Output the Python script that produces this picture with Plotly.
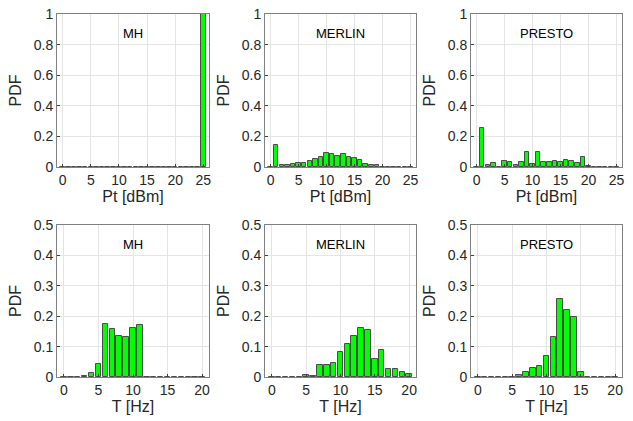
import plotly.graph_objects as go

pt_bins = list(range(0, 26))
t_bins = list(range(0, 21))

mh_pt = [0.0] * 25 + [1.0]
merlin_pt = [0.0, 0.147, 0.014, 0.014, 0.021, 0.023, 0.026, 0.041, 0.054, 0.065,
             0.094, 0.088, 0.074, 0.088, 0.067, 0.060, 0.044, 0.021, 0.016, 0.010,
             0.0, 0.0, 0.0, 0.0, 0.0, 0.0]
presto_pt = [0.0, 0.255, 0.013, 0.026, 0.002, 0.040, 0.030, 0.011, 0.033, 0.099,
             0.020, 0.099, 0.033, 0.033, 0.037, 0.034, 0.046, 0.040, 0.029, 0.064,
             0.008, 0.0, 0.0, 0.0, 0.0, 0.0]

mh_t = [0.0, 0.0, 0.001, 0.004, 0.014, 0.043, 0.175, 0.159, 0.136, 0.132, 0.162,
        0.170, 0.0, 0.0, 0.0, 0.0, 0.0, 0.0, 0.0, 0.0, 0.0]
merlin_t = [0.0, 0.0, 0.0, 0.0, 0.0, 0.005, 0.002, 0.040, 0.041, 0.045, 0.082,
            0.107, 0.136, 0.162, 0.153, 0.060, 0.090, 0.026, 0.026, 0.016, 0.009]
presto_t = [0.0, 0.0, 0.0, 0.0, 0.001, 0.001, 0.005, 0.016, 0.031, 0.037, 0.069,
            0.132, 0.257, 0.222, 0.197, 0.015, 0.0, 0.0, 0.0, 0.0, 0.0]

titles = ["MH", "MERLIN", "PRESTO"]
pt_series = [mh_pt, merlin_pt, presto_pt]
t_series = [mh_t, merlin_t, presto_t]

W, H = 633, 421
xcols = [(57, 209), (265, 416), (471, 622)]
rows = [(14, 167), (225, 377)]

FONT = "Liberation Sans, Arial, sans-serif"
TXT = "#262626"

fig = go.Figure()
panels = [(r, c) for r in range(2) for c in range(3)]

for i, (r, c) in enumerate(panels):
    idx = i + 1
    xa = "x" if idx == 1 else f"x{idx}"
    ya = "y" if idx == 1 else f"y{idx}"
    if r == 0:
        xs, ys = pt_bins, pt_series[c]
    else:
        xs, ys = t_bins, t_series[c]
    fig.add_trace(go.Bar(
        x=xs, y=ys, xaxis=xa, yaxis=ya, width=0.8,
        marker=dict(color="#00ff00", line=dict(color="rgb(75,75,75)", width=1)),
        showlegend=False, hoverinfo="x+y",
    ))
    x0, x1 = xcols[c]
    y0, y1 = rows[r]
    common = dict(
        showline=True, mirror=True, linecolor="#7f7f7f", linewidth=1,
        showgrid=True, gridcolor="#e4e4e4", gridwidth=1,
        ticks="inside", ticklen=3, tickcolor="#404040",
        tickfont=dict(family=FONT, size=14, color=TXT),
        zeroline=False, automargin=False, ticklabeloverflow="allow",
    )
    if r == 0:
        xrng, xt, xtitle = [-1, 26], [0, 5, 10, 15, 20, 25], "Pt [dBm]"
        yrng, yt = [0, 1], [0, 0.2, 0.4, 0.6, 0.8, 1]
        ylab = ["0", "0.2", "0.4", "0.6", "0.8", "1"]
    else:
        xrng, xt, xtitle = [-1, 21], [0, 5, 10, 15, 20], "T [Hz]"
        yrng, yt = [0, 0.5], [0, 0.1, 0.2, 0.3, 0.4, 0.5]
        ylab = ["0", "0.1", "0.2", "0.3", "0.4", "0.5"]
    xkey = "xaxis" if idx == 1 else f"xaxis{idx}"
    ykey = "yaxis" if idx == 1 else f"yaxis{idx}"
    fig.update_layout(**{
        xkey: dict(common, domain=[x0 / W, x1 / W], range=xrng,
                   tickvals=xt, anchor=ya,
                   title=dict(text=xtitle, standoff=3,
                              font=dict(family=FONT, size=16, color=TXT))),
        ykey: dict(common, domain=[1 - y1 / H, 1 - y0 / H],
                   range=yrng, tickvals=yt, ticktext=ylab, anchor=xa,
                   title=dict(text="PDF", standoff=8,
                              font=dict(family=FONT, size=16, color=TXT))),
    })
    fig.add_annotation(
        text=titles[c], xref=f"{xa} domain", yref=f"{ya} domain",
        x=0.5, y=0.875, showarrow=False, xanchor="center", yanchor="middle",
        font=dict(family=FONT, size=13, color="#000000"),
    )

fig.update_layout(
    width=W, height=H, margin=dict(l=0, r=0, t=0, b=0, autoexpand=False),
    paper_bgcolor="white", plot_bgcolor="white", bargap=0,
)

fig.write_html(
    "out.html",
    config={"displayModeBar": False},
    post_script="document.body.style.margin='0';document.body.style.padding='0';",
)
